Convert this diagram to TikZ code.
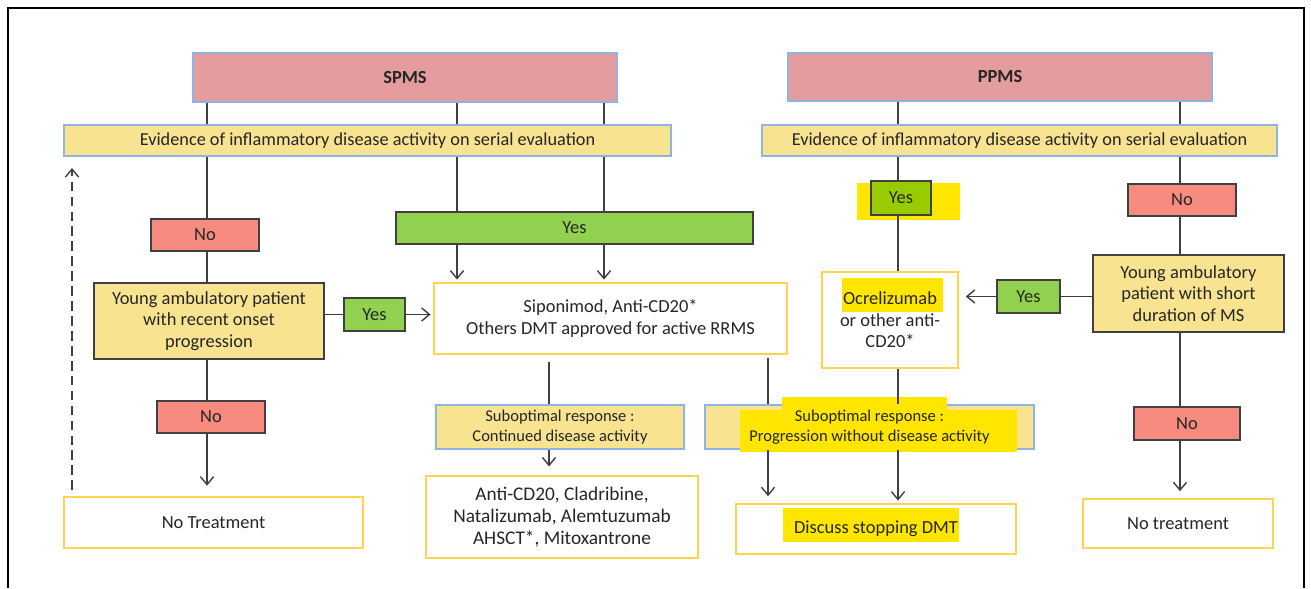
\documentclass[tikz,border=0pt]{standalone}
\usepackage{fontspec}
\setmainfont{Carlito}
\usetikzlibrary{arrows.meta}
\definecolor{hdrpink}{HTML}{E49C9F}
\definecolor{edgeblue}{HTML}{8EB4E3}
\definecolor{condyellow}{HTML}{F7E390}
\definecolor{nored}{HTML}{F78B80}
\definecolor{yesgreen}{HTML}{92D050}
\definecolor{yeslime}{HTML}{99CC00}
\definecolor{drugedge}{HTML}{FFD54F}
\definecolor{linegray}{HTML}{404040}
\definecolor{marker}{HTML}{FFE600}

\begin{document}
\begin{tikzpicture}[x=0.02cm, y=0.02cm,
    >={Straight Barb[length=4.5pt, width=7.5pt]},
    every node/.style={inner sep=0pt, align=center, text=black!85,
        font=\fontsize{10.5}{12.3}\selectfont},
    sz/.style 2 args={minimum width=#1*0.02cm, minimum height=#2*0.02cm},
    hdr/.style={draw=edgeblue, fill=hdrpink, line width=0.9pt,
        font=\fontsize{10.5}{12.3}\selectfont\bfseries},
    evid/.style={draw=edgeblue, fill=condyellow, line width=0.9pt,
        font=\fontsize{10.4}{12.3}\selectfont},
    subopt/.style={draw=edgeblue, fill=condyellow, line width=0.9pt,
        font=\fontsize{9.4}{11.3}\selectfont},
    nobox/.style={draw=linegray, fill=nored, line width=0.8pt},
    yesbox/.style={draw=linegray, fill=yesgreen, line width=0.8pt},
    patient/.style={draw=linegray, fill=condyellow, line width=0.8pt},
    drug/.style={draw=drugedge, line width=0.9pt},
    conn/.style={draw=linegray, line width=0.8pt}]

    \useasboundingbox (0,0) rectangle (1311,-588);
    \draw[line width=1.2pt] (8,-588) -- (8,-8) -- (1304,-8) -- (1304,-588);

    % marker highlights behind boxes
    \fill[marker] (857,-183) rectangle (960,-220);
    \fill[marker] (842,-278) rectangle (943,-312);
    \fill[marker] (783,-508) rectangle (959,-542);

    % SPMS side
    \node[hdr, sz={424}{49}] (spms) at (405,-77.5) {SPMS};
    \node[evid, sz={607}{31}] (evL) at (367.5,-140.5)
        {Evidence of inflammatory disease activity on serial evaluation};
    \node[nobox, sz={108}{32}] (noA) at (205,-235) {No};
    \node[yesbox, sz={357}{32}] (yesA) at (574.5,-228) {Yes};
    \node[patient, sz={230}{76}] (youngL) at (209,-321)
        {Young ambulatory patient\\ with recent onset\\ progression};
    \node[yesbox, sz={61}{33}] (yesB) at (374.5,-314.5) {Yes};
    \node[drug, sz={353}{71}] (sipo) at (610.5,-318.5)
        {Siponimod, Anti-CD20*\\ Others DMT approved for active RRMS};
    \node[nobox, sz={108}{32}] (noB) at (211,-417) {No};
    \node[drug, sz={299}{51}] (notreatL) at (213.5,-522.5) {No Treatment};
    \node[subopt, sz={248}{44}] (sub1) at (560,-427)
        {Suboptimal response :\\ Continued disease activity};
    \node[drug, sz={272}{82}, font=\fontsize{11}{12.5}\selectfont] (anti) at (562,-517)
        {Anti-CD20, Cladribine,\\ Natalizumab, Alemtuzumab\\ AHSCT*, Mitoxantrone};

    % PPMS side
    \node[hdr, sz={424}{48}] (ppms) at (1000,-77) {PPMS};
    \node[evid, sz={515}{31}] (evR) at (1019.5,-140.5)
        {Evidence of inflammatory disease activity on serial evaluation};
    \node[yesbox, fill=yeslime, sz={60}{34}] (yesC) at (901,-198) {Yes};
    \node[nobox, sz={108}{32}] (noC) at (1182,-200) {No};
    \node[drug, sz={136}{96}] (ocre) at (890,-320)
        {Ocrelizumab\\ or other anti-\\ CD20*};
    \node[patient, sz={191}{77}] (youngR) at (1188.5,-293.5)
        {Young ambulatory\\ patient with short\\ duration of MS};
    \node[yesbox, sz={63}{33}] (yesD) at (1028.5,-296.5) {Yes};
    \node[subopt, sz={329}{44}] (sub2) at (869.5,-427) {};
    \fill[marker] (782,-397) rectangle (947,-411);
    \fill[marker] (740,-410) rectangle (1017,-452);
    \node[font=\fontsize{9.4}{11.3}\selectfont] (sub2txt) at (sub2.center)
        {Suboptimal response :\\ Progression without disease activity};
    \node[drug, sz={280}{50}] (discuss) at (876,-529) {Discuss stopping DMT};
    \node[nobox, sz={106}{33}] (noD) at (1187,-423.5) {No};
    \node[drug, sz={190}{49}] (notreatR) at (1178,-523.5) {No treatment};

    % connectors, SPMS
    \draw[conn] (207,0 |- spms.south) -- (207,0 |- evL.north);
    \draw[conn] (207,0 |- evL.south) -- (207,0 |- noA.north);
    \draw[conn] (207,0 |- noA.south) -- (207,0 |- youngL.north);
    \draw[conn] (207,0 |- youngL.south) -- (207,0 |- noB.north);
    \draw[conn, ->, shorten >=6pt] (207,0 |- noB.south) -- (207,0 |- notreatL.north);
    \foreach \x in {457,604} {
        \draw[conn] (\x,0 |- spms.south) -- (\x,0 |- evL.north);
        \draw[conn] (\x,0 |- evL.south) -- (\x,0 |- yesA.north);
        \draw[conn, ->, shorten >=1.5pt] (\x,0 |- yesA.south) -- (\x,0 |- sipo.north);
    }
    \draw[conn] (youngL.east |- yesB) -- (yesB.west);
    \draw[conn, ->, shorten >=1.5pt] (yesB.east) -- (sipo.west |- yesB);
    \draw[conn, shorten <=4pt] (549,0 |- sipo.south) -- (549,0 |- sub1.north);
    \draw[conn, ->, shorten >=5pt] (549,0 |- sub1.south) -- (549,0 |- anti.north);
    \draw[conn, shorten <=2pt] (768,0 |- sipo.south) -- (768,0 |- sub2.north);
    \draw[conn, ->, shorten >=4pt] (768,0 |- sub2.south) -- (768,0 |- discuss.north);
    \coordinate (loopbot) at (72,-490);
    \coordinate (looptop) at (72,-168);
    \draw[conn, ->, dash pattern=on 5.5pt off 3pt] (loopbot) -- (looptop);

    % connectors, PPMS
    \draw[conn] (898,0 |- ppms.south) -- (898,0 |- evR.north);
    \draw[conn] (898,0 |- evR.south) -- (898,0 |- yesC.north);
    \draw[conn] (898,0 |- yesC.south) -- (898,0 |- ocre.north);
    \draw[conn] (898,0 |- ocre.south) -- (898,0 |- sub2.north);
    \draw[conn, ->, shorten >=1.5pt] (898,0 |- sub2.south) -- (898,0 |- discuss.north);
    \draw[conn] (1180,0 |- ppms.south) -- (1180,0 |- evR.north);
    \draw[conn] (1180,0 |- evR.south) -- (1180,0 |- noC.north);
    \draw[conn] (1180,0 |- noC.south) -- (1180,0 |- youngR.north);
    \draw[conn] (1180,0 |- youngR.south) -- (1180,0 |- noD.north);
    \draw[conn, ->, shorten >=4pt] (1180,0 |- noD.south) -- (1180,0 |- notreatR.north);
    \draw[conn] (youngR.west |- yesD) -- (yesD.east);
    \draw[conn, ->, shorten >=4pt] (yesD.west) -- (ocre.east |- yesD);
\end{tikzpicture}
\end{document}
